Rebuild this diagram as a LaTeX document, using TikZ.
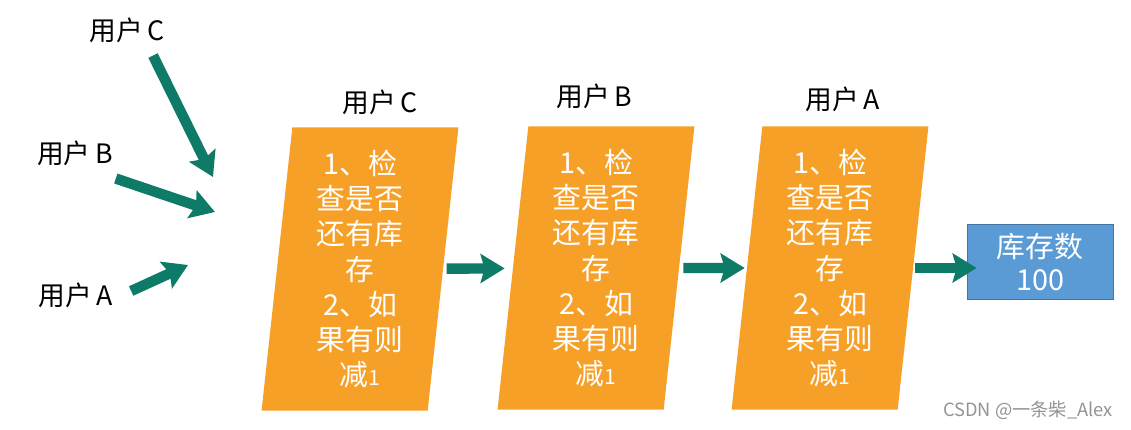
\documentclass[tikz,border=0pt]{standalone}
\usepackage{fontspec}
\setmainfont{Noto Sans CJK SC}
\usepackage{xcolor}
\usepackage{tikz}
\usetikzlibrary{arrows.meta,shapes.geometric}
\definecolor{stepOrange}{RGB}{247,160,40}
\definecolor{stockBlue}{RGB}{91,155,213}
\definecolor{flowGreen}{RGB}{14,122,104}
\tikzset{every node/.style={font=\small}}

\begin{document}
\begin{tikzpicture}[
x=0.025cm,y=-0.025cm,
user/.style={
inner sep=2pt,
font=\fontsize{19}{22}\selectfont
},
check/.style={
trapezium,
trapezium left angle=82.6,
trapezium right angle=97.4,
trapezium stretches body,
fill=stepOrange,
minimum width=4.92cm,
minimum height=7.08cm,
inner sep=0pt,
align=center,
text=white,
font=\fontsize{20.5}{24.9}\selectfont
},
stock/.style={
draw=stockBlue!75!black,
fill=stockBlue,
minimum width=3.65cm,
minimum height=1.875cm,
align=center,
text=white,
font=\fontsize{20.5}{23}\selectfont
},
credit/.style={
text=gray!85,
font=\fontsize{13}{13}\selectfont
},
push/.style={
-{Stealth[length=0.6cm,width=0.72cm,inset=0.1cm]},
line width=0.26cm,
flowGreen
}
]
\useasboundingbox (0,0) rectangle (1131,429);

\node[user] (userC) at (127,30) {用户\,C};
\node[user] (userB) at (75,153) {用户\,B};
\node[user] (userA) at (76,295) {用户\,A};

\coordinate (hitC) at (213,177);
\coordinate (hitB) at (215,212);
\coordinate (hitA) at (188,265);

\node[check] (boxC) at (360,269) {1、检\\查是否\\还有库\\存\\2、如\\果有则\\减{\fontsize{15}{15}\selectfont 1}};
\node[check] (boxB) at (596,268) {1、检\\查是否\\还有库\\存\\2、如\\果有则\\减{\fontsize{15}{15}\selectfont 1}};
\node[check] (boxA) at (830,268) {1、检\\查是否\\还有库\\存\\2、如\\果有则\\减{\fontsize{15}{15}\selectfont 1}};

\node[user] (tagC) at (380,102) {用户\,C};
\node[user] (tagB) at (594,96) {用户\,B};
\node[user] (tagA) at (843,99) {用户\,A};

\node[stock] (stock) at (1040,262) {库存数\\100};

\node[credit] (note) at (1028,410) {CSDN @一条柴\_Alex};

\draw[push] ([shift={(26,10)}]userC.south) -- (hitC);
\draw[push] ([shift={(0,10)}]userB.south east) -- (hitB);
\draw[push] ([shift={(15,-4)}]userA.east) -- (hitA);

\draw[push,shorten <=0.08cm,shorten >=0.2cm] (boxC) -- (boxB);
\draw[push,shorten <=0.1cm,shorten >=0.05cm] (boxB) -- (boxA);
\draw[push,shorten <=0.05cm,shorten >=-0.25cm] (boxA.east) -- (stock.west |- boxA.east);

\end{tikzpicture}
\end{document}
